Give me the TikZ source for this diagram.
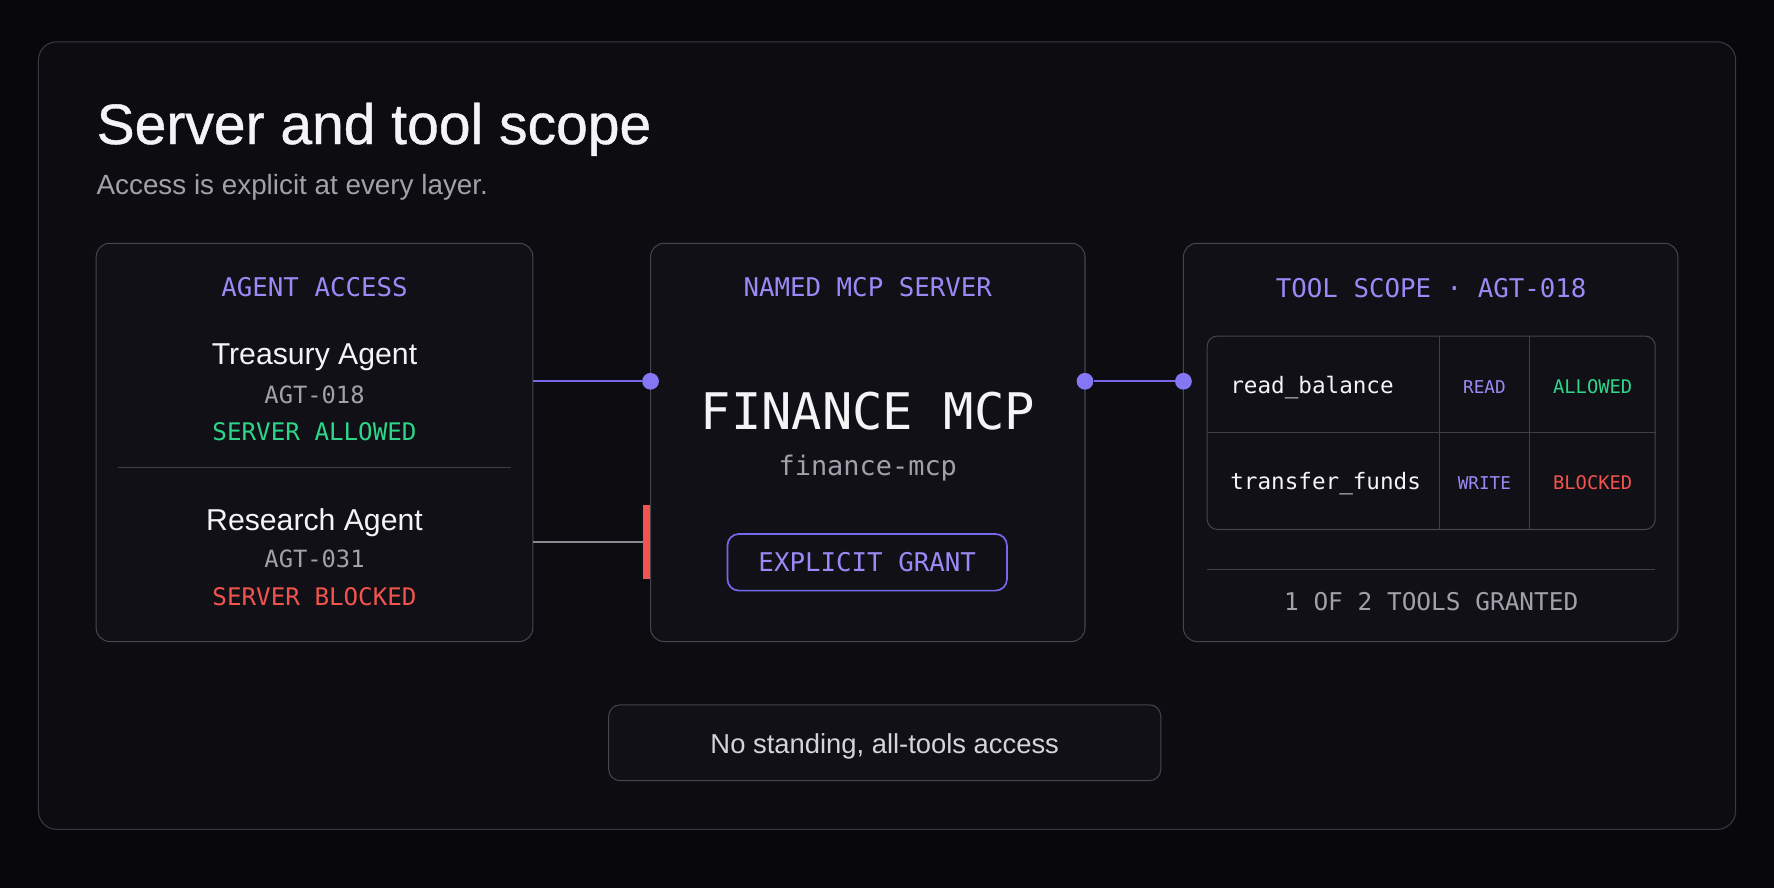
\documentclass[tikz,border=0pt]{standalone}
\usepackage{fontspec}
\setmainfont{Liberation Sans}
\newfontfamily\titlefont{Liberation Sans}[FakeBold=0.7]
\newfontfamily\monofont{DejaVu Sans Mono}
\definecolor{pagebg}{HTML}{08080C}
\definecolor{panelbg}{HTML}{0C0C11}
\definecolor{panelline}{HTML}{3A3A42}
\definecolor{boxfill}{HTML}{101016}
\definecolor{boxline}{HTML}{45454D}
\definecolor{accent}{HTML}{9B8AF5}
\definecolor{wire}{HTML}{7668EC}
\definecolor{dotcol}{HTML}{8577F4}
\definecolor{okgreen}{HTML}{2ED68A}
\definecolor{badred}{HTML}{F2544D}
\definecolor{softgray}{HTML}{A1A1AB}
\definecolor{linegray}{HTML}{8A8A92}
\definecolor{rulegray}{HTML}{3F3F47}
\definecolor{brightwhite}{HTML}{F4F4F6}
\definecolor{notegray}{HTML}{D4D4DA}
\newcommand{\fsz}[1]{\fontsize{#1}{#1}\selectfont}
\begin{document}
\begin{tikzpicture}[x=0.5pt,y=-0.5pt,
    every node/.style={inner sep=0pt},
    box/.style={draw=boxline, fill=boxfill, line width=0.45pt, rounded corners=6pt},
    hdr/.style={anchor=base, text=accent, font=\monofont\fsz{11.4}},
    agentname/.style={anchor=base, text=brightwhite, font=\fsz{13.35}},
    agentid/.style={anchor=base, text=softgray, font=\monofont\fsz{10.5}},
    status/.style={anchor=base, font=\monofont\fsz{10.7}},
    toolname/.style={anchor=base west, text=brightwhite, font=\monofont\fsz{10}},
    perm/.style={anchor=base, text=accent, font=\monofont\fsz{7.8}},
    verdict/.style={anchor=base, font=\monofont\fsz{8.3}},
    dot/.style={circle, fill=dotcol, minimum size=7.4pt}]
% page and outer panel
\useasboundingbox (0,0) rectangle (1568,784);
\fill[pagebg] (-4,-4) rectangle (1572,788);
\node[draw=panelline, fill=panelbg, line width=0.45pt, rounded corners=8pt,
      minimum width=750pt, minimum height=348pt] (panel) at (784,385) {};
\node[anchor=base west, text=brightwhite, font=\titlefont\fsz{25.2}] (title) at (85,127.3) {Server and tool scope};
\node[anchor=base west, text=softgray, font=\fsz{12.3}] (subtitle) at (85,172) {Access is explicit at every layer.};

% three columns
\node[box, minimum width=193pt, minimum height=176pt] (agents) at (278,391) {};
\node[box, minimum width=192pt, minimum height=176pt] (server) at (767,391) {};
\node[box, minimum width=218.5pt, minimum height=176pt] (scope) at (1264.5,391) {};

% agent access
\node[hdr] (agentshdr) at (278,262.2) {AGENT ACCESS};
\node[agentname] (treasury) at (278,322.6) {Treasury Agent};
\node[agentid] (treasuryid) at (278,357) {AGT-018};
\node[status, text=okgreen] (treasuryok) at (278,389.5) {SERVER ALLOWED};
\draw[rulegray, line width=0.45pt] (104,413) -- (452,413);
\node[agentname] (research) at (278,469) {Research Agent};
\node[agentid] (researchid) at (278,501.7) {AGT-031};
\node[status, text=badred] (researchno) at (278,535.3) {SERVER BLOCKED};

% named server
\node[hdr] (serverhdr) at (767,262.2) {NAMED MCP SERVER};
\node[anchor=base, text=brightwhite, font=\monofont\fsz{22.3}] (finance) at (767,379.5) {FINANCE MCP};
\node[anchor=base, text=softgray, font=\monofont\fsz{11.9}] (financeid) at (767,420) {finance-mcp};
\node[draw=wire, fill=boxfill, line width=0.75pt, rounded corners=5pt,
      minimum width=123.5pt, minimum height=25pt, text=accent, font=\monofont\fsz{11.4}] (grant) at (766.5,497) {EXPLICIT GRANT};

% tool scope
\node[hdr] (scopehdr) at (1265,262.8) {TOOL SCOPE · AGT-018};
\node[draw=boxline, line width=0.45pt, rounded corners=4.5pt,
      minimum width=198pt, minimum height=85.5pt] (tools) at (1265,382.5) {};
\draw[rulegray, line width=0.45pt] (tools.west |- 0,382.5) -- (tools.east |- 0,382.5);
\draw[rulegray, line width=0.45pt] (tools.north -| 1272,0) -- (tools.south -| 1272,0);
\draw[rulegray, line width=0.45pt] (tools.north -| 1352,0) -- (tools.south -| 1352,0);
\node[toolname] (readbal) at (1087,347.6) {read\_balance};
\node[perm] (readperm) at (1312,347.6) {READ};
\node[verdict, text=okgreen] (readok) at (1407.7,347.6) {ALLOWED};
\node[toolname] (transfer) at (1087,432.5) {transfer\_funds};
\node[perm] (writeperm) at (1312,432.5) {WRITE};
\node[verdict, text=badred] (writeno) at (1407.7,432.5) {BLOCKED};
\draw[rulegray, line width=0.45pt] (1067,503) -- (1463,503);
\node[anchor=base, text=softgray, font=\monofont\fsz{10.8}] (granted) at (1265,540) {1 OF 2 TOOLS GRANTED};

% connectors
\node[dot] (dotA) at (575,337) {};
\node[dot] (dotB) at (959,337) {};
\node[dot] (dotC) at (1046,337) {};
\draw[wire, line width=0.75pt] (agents.east |- dotA) -- (dotA);
\draw[wire, line width=0.75pt] (dotB) -- (dotC);
\node[fill=badred, minimum width=3.1pt, minimum height=32.5pt] (bar) at (571.7,479) {};
\draw[linegray, line width=0.88pt] (agents.east |- bar) -- (bar.west);

% footnote box
\node[box, rounded corners=5pt, minimum width=244pt, minimum height=33.5pt] (note) at (782,656.5) {};
\node[anchor=base, text=notegray, font=\fsz{12.1}] (notetext) at (782,666.4) {No standing, all-tools access};
\end{tikzpicture}
\end{document}
